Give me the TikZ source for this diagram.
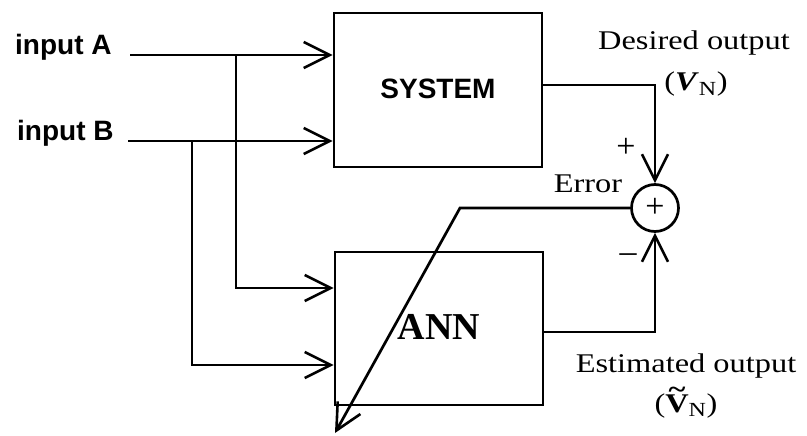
\documentclass[tikz,border=0pt]{standalone}
\usepackage{fontspec}
\setmainfont{Liberation Serif}
\newfontfamily\blockfont{Liberation Sans}
\usetikzlibrary{arrows.meta}

\newcommand{\wide}[1]{\scalebox{1.2}[1]{#1}}
% capital V with a tilde set close above it
\newcommand{\tildeV}{\ooalign{\textbf{V}\cr\hidewidth\raisebox{0.5em}{\textbf{\textasciitilde}}\hidewidth\cr}}

\tikzset{
  wire/.style={line width=2.7pt, line join=miter},
  flow/.style={wire, -{Straight Barb[length=26pt, width=26pt, line width=2.6pt]}},
  blockbox/.style={draw, line width=2.7pt, rectangle, inner sep=0pt},
  inlabel/.style={font=\blockfont\bfseries\fontsize{28}{30}\selectfont, inner sep=0pt},
  serif/.style={font=\fontsize{27}{30}\selectfont, inner sep=0pt},
  sign/.style={font=\fontsize{34}{36}\selectfont, inner sep=0pt},
}

\begin{document}
\begin{tikzpicture}[x=1pt, y=-1pt]
  \useasboundingbox (0,0) rectangle (807,436);

  % blocks
  \node[blockbox, minimum width=208pt, minimum height=154pt,
        font=\blockfont\bfseries\fontsize{28}{30}\selectfont] (sys) at (438,90) {\raisebox{3pt}{SYSTEM}};
  \node[blockbox, minimum width=208pt, minimum height=153pt,
        font=\bfseries\fontsize{38}{40}\selectfont] (ann) at (439,328.5) {\raisebox{4pt}{ANN}};
  \node[draw, circle, line width=2.7pt, minimum size=47pt, inner sep=0pt,
        sign] (sum) at (655,208) {+};

  % inputs
  \node[inlabel, anchor=base west] (inA) at (15,55) {input A};
  \node[inlabel, anchor=base west] (inB) at (17,141) {input B};
  \coordinate (a0) at (130,55);
  \coordinate (b0) at (128,141);
  \coordinate (a1) at (236,55);
  \coordinate (a2) at (236,288);
  \coordinate (b1) at (192,141);
  \coordinate (b2) at (192,365);

  \draw[flow] (a0) -- (sys.west |- a0);
  \draw[flow] (b0) -- (sys.west |- b0);
  \draw[flow] (a1) -- (a2) -- (ann.west |- a2);
  \draw[flow] (b1) -- (b2) -- (ann.west |- b2);

  % outputs to the summing junction
  \coordinate (s0) at (542,85);
  \coordinate (n0) at (542,332);
  \draw[flow] (s0) -- (sum.center |- s0) -- (sum.north);
  \draw[flow] (n0) -- (sum.center |- n0) -- (sum.south);

  % error fed back across the network
  \coordinate (e1) at (460,208);
  \coordinate (e2) at (335,433);
  \draw[flow] (sum.west) -- (e1) -- (e2);

  % labels
  \node[serif, anchor=base] (dout) at (694,50) {\wide{Desired output}};
  \node[serif] (vn) at (696,84) {\wide{(\textit{\textbf{V}}\textsubscript{\fontsize{20}{20}\selectfont N})}};
  \node[serif, anchor=base] (eout) at (686,372) {\wide{Estimated output}};
  \node[serif, anchor=base] (vt) at (686,412) {\wide{(\tildeV\textsubscript{\fontsize{20}{20}\selectfont N})}};
  \node[serif, anchor=base] (err) at (588,193) {\wide{Error}};
  \node[sign] (plus) at (626,148) {+};
  \node[sign] (minus) at (628,258) {\textendash};
\end{tikzpicture}
\end{document}
